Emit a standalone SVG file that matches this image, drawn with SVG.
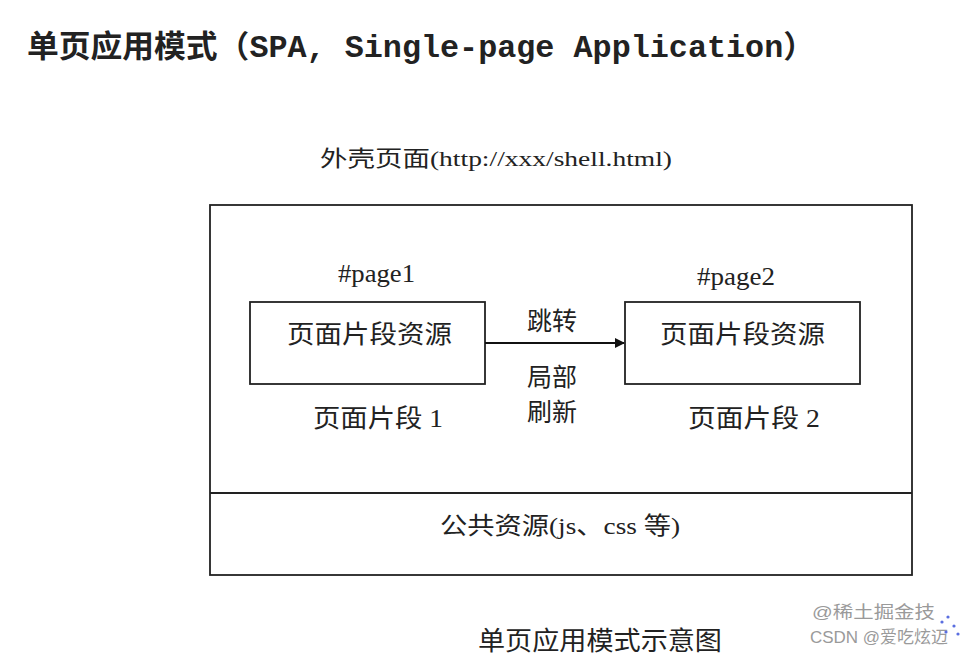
<svg xmlns="http://www.w3.org/2000/svg" width="963" height="655" viewBox="0 0 963 655">
<style>
.t{font-family:"Liberation Serif","Noto Sans CJK SC",serif;fill:#222}
.box{fill:none;stroke:#222;stroke-width:1.8}
.wm{font-family:"Liberation Sans","Noto Sans CJK SC",sans-serif;fill:#9a9a9a;font-size:17px}
</style>
<defs>
<marker id="arr" markerWidth="10" markerHeight="10" refX="9" refY="5" orient="auto" markerUnits="userSpaceOnUse">
<path d="M0,0 L10,5 L0,10 z" fill="#111"/>
</marker>
</defs>
<rect width="963" height="655" fill="#fff"/>
<text x="27" y="57" font-family="'Liberation Mono','Noto Sans CJK SC',monospace" font-weight="bold" font-size="31" fill="#222" textLength="788" lengthAdjust="spacingAndGlyphs">单页应用模式（SPA, Single-page Application）</text>
<text class="t" x="320" y="166" font-size="22" textLength="352" lengthAdjust="spacingAndGlyphs">外壳页面(http://xxx/shell.html)</text>
<g id="shell">
<rect class="box" x="210" y="205" width="702" height="370"/>
<line class="box" x1="210" y1="493" x2="912" y2="493"/>
</g>
<g id="page1">
<text class="t" x="338" y="282" font-size="25" textLength="77" lengthAdjust="spacingAndGlyphs">#page1</text>
<rect class="box" x="250" y="302" width="235" height="82"/>
<text class="t" x="287" y="343" font-size="25" textLength="165" lengthAdjust="spacingAndGlyphs">页面片段资源</text>
<text class="t" x="313" y="427" font-size="25" textLength="130" lengthAdjust="spacingAndGlyphs">页面片段 1</text>
</g>
<g id="page2">
<text class="t" x="697" y="285" font-size="25" textLength="78" lengthAdjust="spacingAndGlyphs">#page2</text>
<rect class="box" x="625" y="302" width="235" height="82"/>
<text class="t" x="660" y="343" font-size="25" textLength="165" lengthAdjust="spacingAndGlyphs">页面片段资源</text>
<text class="t" x="688" y="427" font-size="25" textLength="132" lengthAdjust="spacingAndGlyphs">页面片段 2</text>
</g>
<g id="connectors">
<line x1="485" y1="343" x2="624" y2="343" stroke="#111" stroke-width="1.8" marker-end="url(#arr)"/>
<text class="t" x="552" y="330" font-size="25" text-anchor="middle">跳转</text>
<text class="t" x="552" y="386" font-size="25" text-anchor="middle">局部</text>
<text class="t" x="552" y="421" font-size="25" text-anchor="middle">刷新</text>
</g>
<g id="common">
<text class="t" x="440" y="534" font-size="24" textLength="240" lengthAdjust="spacingAndGlyphs">公共资源(js、css 等)</text>
</g>
<text class="t" x="478" y="650" font-size="26" textLength="244" lengthAdjust="spacingAndGlyphs">单页应用模式示意图</text>
<text class="wm" x="812" y="618" textLength="123" lengthAdjust="spacingAndGlyphs">@稀土掘金技</text>
<text class="wm" x="810" y="643" fill="#888" textLength="138" lengthAdjust="spacingAndGlyphs">CSDN @爱吃炫迈</text>
<g fill="#5a6ee0">
<circle cx="942" cy="622" r="1.6"/><circle cx="948" cy="617" r="1.6"/><circle cx="954" cy="626" r="1.6"/><circle cx="946" cy="632" r="1.6"/><circle cx="958" cy="634" r="1.6"/>
</g>
</svg>
